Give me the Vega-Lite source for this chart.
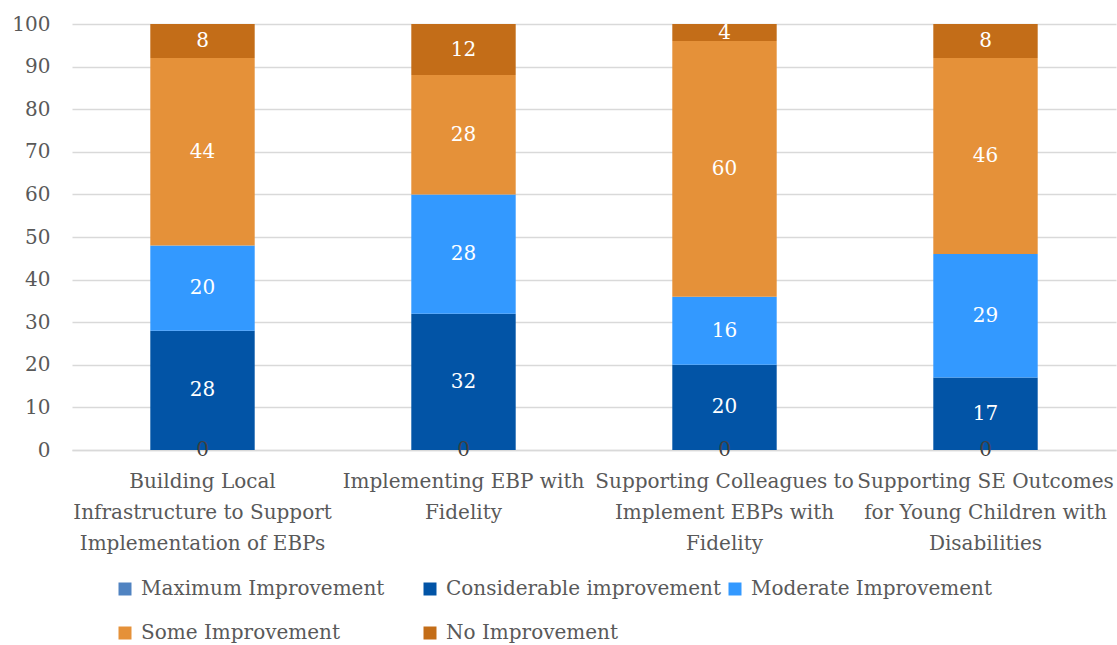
{
  "$schema": "https://vega.github.io/schema/vega-lite/v6.json",
  "width": 1044,
  "height": 426,
  "autosize": {"type": "none"},
  "padding": {"left": 72, "top": 24, "right": 1, "bottom": 195},
  "background": "white",
  "config": {
    "font": "DejaVu Serif",
    "view": {"stroke": null},
    "axis": {"labelFont": "DejaVu Serif", "labelFontSize": 20, "labelColor": "#595959", "title": null}
  },
  "data": {
    "values": [
      {"category": "Building Local Infrastructure to Support Implementation of EBPs", "level": "Maximum Improvement", "k": 1, "value": 0},
      {"category": "Building Local Infrastructure to Support Implementation of EBPs", "level": "Considerable improvement", "k": 2, "value": 28},
      {"category": "Building Local Infrastructure to Support Implementation of EBPs", "level": "Moderate Improvement", "k": 3, "value": 20},
      {"category": "Building Local Infrastructure to Support Implementation of EBPs", "level": "Some Improvement", "k": 4, "value": 44},
      {"category": "Building Local Infrastructure to Support Implementation of EBPs", "level": "No Improvement", "k": 5, "value": 8},
      {"category": "Implementing EBP with Fidelity", "level": "Maximum Improvement", "k": 1, "value": 0},
      {"category": "Implementing EBP with Fidelity", "level": "Considerable improvement", "k": 2, "value": 32},
      {"category": "Implementing EBP with Fidelity", "level": "Moderate Improvement", "k": 3, "value": 28},
      {"category": "Implementing EBP with Fidelity", "level": "Some Improvement", "k": 4, "value": 28},
      {"category": "Implementing EBP with Fidelity", "level": "No Improvement", "k": 5, "value": 12},
      {"category": "Supporting Colleagues to Implement EBPs with Fidelity", "level": "Maximum Improvement", "k": 1, "value": 0},
      {"category": "Supporting Colleagues to Implement EBPs with Fidelity", "level": "Considerable improvement", "k": 2, "value": 20},
      {"category": "Supporting Colleagues to Implement EBPs with Fidelity", "level": "Moderate Improvement", "k": 3, "value": 16},
      {"category": "Supporting Colleagues to Implement EBPs with Fidelity", "level": "Some Improvement", "k": 4, "value": 60},
      {"category": "Supporting Colleagues to Implement EBPs with Fidelity", "level": "No Improvement", "k": 5, "value": 4},
      {"category": "Supporting SE Outcomes for Young Children with Disabilities", "level": "Maximum Improvement", "k": 1, "value": 0},
      {"category": "Supporting SE Outcomes for Young Children with Disabilities", "level": "Considerable improvement", "k": 2, "value": 17},
      {"category": "Supporting SE Outcomes for Young Children with Disabilities", "level": "Moderate Improvement", "k": 3, "value": 29},
      {"category": "Supporting SE Outcomes for Young Children with Disabilities", "level": "Some Improvement", "k": 4, "value": 46},
      {"category": "Supporting SE Outcomes for Young Children with Disabilities", "level": "No Improvement", "k": 5, "value": 8}
    ]
  },
  "encoding": {
    "x": {
      "field": "category",
      "type": "nominal",
      "sort": null,
      "scale": {"paddingInner": 0.6, "paddingOuter": 0.3},
      "axis": {
        "labelAngle": 0,
        "ticks": false,
        "domainColor": "#d9d9d9",
        "domainWidth": 1.5,
        "labelPadding": 21,
        "labelLineHeight": 31,
        "labelBaseline": "top",
        "labelLimit": 400,
        "labelExpr": "datum.value == 'Building Local Infrastructure to Support Implementation of EBPs' ? ['Building Local', 'Infrastructure to Support', 'Implementation of EBPs'] : datum.value == 'Implementing EBP with Fidelity' ? ['Implementing EBP with', 'Fidelity'] : datum.value == 'Supporting Colleagues to Implement EBPs with Fidelity' ? ['Supporting Colleagues to', 'Implement EBPs with', 'Fidelity'] : ['Supporting SE Outcomes', 'for Young Children with', 'Disabilities']"
      }
    },
    "y": {
      "field": "value",
      "type": "quantitative",
      "stack": "zero",
      "scale": {"domain": [0, 100], "nice": false},
      "axis": {
        "values": [0, 10, 20, 30, 40, 50, 60, 70, 80, 90, 100],
        "domain": false,
        "ticks": false,
        "gridColor": "#d9d9d9",
        "gridWidth": 1.5,
        "labelPadding": 22
      }
    },
    "order": {"field": "k", "type": "quantitative"}
  },
  "layer": [
    {
      "mark": {"type": "bar"},
      "encoding": {
        "color": {
          "field": "level",
          "type": "nominal",
          "scale": {
            "domain": ["Maximum Improvement", "Considerable improvement", "Moderate Improvement", "Some Improvement", "No Improvement"],
            "range": ["#5083c1", "#0254a6", "#3399ff", "#e59139", "#c36d18"]
          },
          "legend": {
            "title": null,
            "orient": "none",
            "legendX": 43,
            "legendY": 555,
            "direction": "horizontal",
            "columns": 3,
            "gridAlign": "all",
            "padding": 0,
            "symbolType": "square",
            "symbolSize": 169,
            "symbolStrokeWidth": 0,
            "labelFont": "DejaVu Serif",
            "labelFontSize": 20,
            "labelColor": "#595959",
            "labelOffset": 6,
            "labelLimit": 400,
            "columnPadding": 3,
            "rowPadding": 24
          }
        }
      }
    },
    {
      "mark": {"type": "text", "fontSize": 20, "font": "DejaVu Serif", "baseline": "middle"},
      "encoding": {
        "y": {"field": "value", "type": "quantitative", "stack": "zero", "bandPosition": 0.5},
        "text": {"field": "value", "type": "quantitative"},
        "color": {
          "condition": {"test": "datum.value == 0", "value": "#404040"},
          "value": "white"
        }
      }
    }
  ]
}
